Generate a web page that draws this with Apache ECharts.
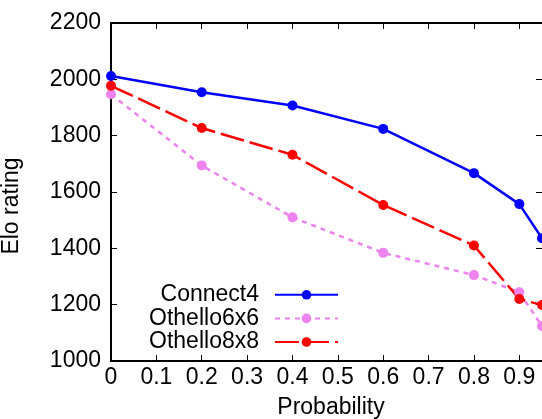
<!DOCTYPE html>
<html>
<head>
<meta charset="utf-8">
<script src="https://cdn.jsdelivr.net/npm/echarts@6/dist/echarts.min.js"></script>
<style>
html,body{margin:0;padding:0;background:#fff;}
#chart{width:542px;height:419px;}
</style>
</head>
<body>
<div id="chart"></div>
<script>
// ---- data ----
const probabilities = [0, 0.2, 0.4, 0.6, 0.8, 0.9, 0.95];
const connect4   = [2012, 1954, 1907, 1824, 1667, 1557, 1436];
const othello6x6 = [1947, 1694, 1510, 1384, 1305, 1244, 1124];
const othello8x8 = [1977, 1827, 1732, 1554, 1410, 1220, 1199];
const seriesNames = ['Connect4', 'Othello6x6', 'Othello8x8'];
const xTickLabels = ['0', '0.1', '0.2', '0.3', '0.4', '0.5', '0.6', '0.7', '0.8', '0.9'];
const yTickLabels = ['1000', '1200', '1400', '1600', '1800', '2000', '2200'];
const xTitle = 'Probability';
const yTitle = 'Elo rating';

const FONT = 'Liberation Sans, Arial, Helvetica, sans-serif';
const pair = (ys) => probabilities.map((p, i) => [p, ys[i]]);

function xLabel(v) {
  const k = Math.round(v * 100);
  if (k % 10 !== 0) return '';
  const idx = k / 10;
  return xTickLabels[idx] !== undefined ? xTickLabels[idx] : '';
}
function yLabel(v) {
  const idx = Math.round((v - 1000) / 200);
  return yTickLabels[idx] !== undefined ? yTickLabels[idx] : '';
}

const chart = echarts.init(document.getElementById('chart'), null, {renderer: 'canvas'});

const tickStyle = {show: true, inside: true, length: 6, lineStyle: {color: '#000', width: 1}};
const lineAxis = {show: true, onZero: false, lineStyle: {color: '#000', width: 2}};

const option = {
  animation: false,
  backgroundColor: '#fff',
  grid: {left: 111, top: 23, right: 0, bottom: 58, containLabel: false},
  xAxis: [
    {
      type: 'value', position: 'bottom', min: 0, max: 0.95, interval: 0.1,
      axisLine: lineAxis, axisTick: tickStyle, splitLine: {show: false},
      axisLabel: {show: true, formatter: xLabel, fontSize: 23, fontFamily: FONT, color: '#000', margin: 5, showMaxLabel: false}
    },
    {
      type: 'value', position: 'top', min: 0, max: 0.95, interval: 0.1,
      axisLine: lineAxis, axisTick: tickStyle, splitLine: {show: false},
      axisLabel: {show: false}
    }
  ],
  yAxis: [
    {
      type: 'value', position: 'left', min: 1000, max: 2200, interval: 200,
      axisLine: lineAxis, axisTick: tickStyle, splitLine: {show: false},
      axisLabel: {show: true, formatter: yLabel, fontSize: 23, fontFamily: FONT, color: '#000', margin: 10}
    },
    {
      type: 'value', position: 'right', min: 1000, max: 2200, interval: 200,
      axisLine: {show: true, onZero: false, lineStyle: {color: '#888', width: 1}},
      axisTick: tickStyle, splitLine: {show: false},
      axisLabel: {show: false}
    }
  ],
  legend: {
    orient: 'vertical', align: 'right', right: 203, top: 283, padding: 0,
    itemWidth: 63, itemHeight: 12, itemGap: 0,
    data: seriesNames,
    textStyle: {fontSize: 23, fontFamily: FONT, color: '#000', lineHeight: 23.6, padding: [0, 11, 0, 0]}
  },
  series: [
    {
      name: seriesNames[0], type: 'line', data: pair(connect4), clip: false,
      symbol: 'circle', symbolSize: 10,
      itemStyle: {color: '#0000ff'},
      lineStyle: {color: '#0000ff', width: 2.5, type: 'solid'}
    },
    {
      name: seriesNames[1], type: 'line', data: pair(othello6x6), clip: false,
      symbol: 'circle', symbolSize: 10,
      itemStyle: {color: '#ee82ee'},
      lineStyle: {color: '#ee82ee', width: 2.5, type: [5, 5]}
    },
    {
      name: seriesNames[2], type: 'line', data: pair(othello8x8), clip: false,
      symbol: 'circle', symbolSize: 10,
      itemStyle: {color: '#ff0000'},
      lineStyle: {color: '#ff0000', width: 2.5, type: [24, 6]}
    }
  ],
  graphic: [
    {
      type: 'text', x: 12, y: 206, rotation: Math.PI / 2,
      style: {text: yTitle, font: '23px ' + FONT, fill: '#000', align: 'center', verticalAlign: 'middle'}
    },
    {
      type: 'text', x: 331, y: 408,
      style: {text: xTitle, font: '23px ' + FONT, fill: '#000', align: 'center', verticalAlign: 'middle'}
    }
  ]
};
chart.setOption(option);
</script>
</body>
</html>
